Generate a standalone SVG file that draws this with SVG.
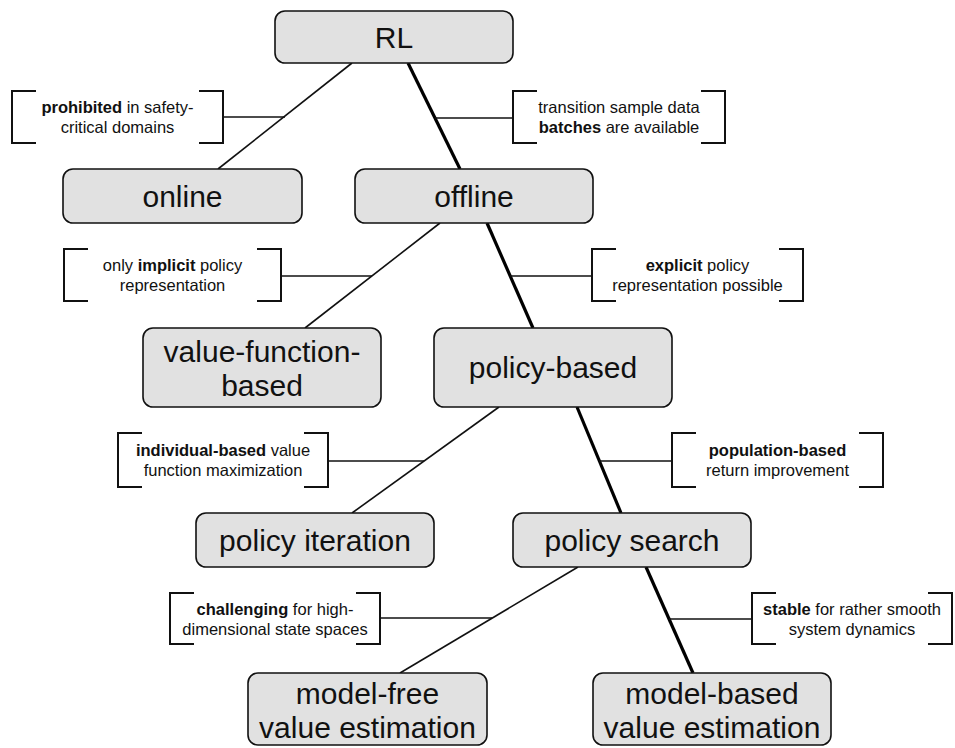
<svg xmlns="http://www.w3.org/2000/svg" width="955" height="748" viewBox="0 0 955 748">
  <style>
    .box { fill: #e1e1e1; stroke: #111; stroke-width: 1.6; }
    .lbl { font-family: "Liberation Sans", Arial, sans-serif; font-size: 30px; fill: #111; text-anchor: middle; }
    .note { font-family: "Liberation Sans", Arial, sans-serif; font-size: 16.5px; fill: #111; text-anchor: middle; }
    .b { font-weight: bold; }
    .brk { fill: none; stroke: #111; stroke-width: 2; }
    .thin { stroke: #111; stroke-width: 1.6; fill: none; }
    .thick { stroke: #000; stroke-width: 3.2; fill: none; }
  </style>

  <!-- tree edges and the ties from each note to its edge -->
  <g id="connectors">
    <line class="thin" x1="352" y1="63" x2="218" y2="169"/>
    <line class="thick" x1="408" y1="63" x2="460" y2="169"/>
    <line class="thin" x1="223" y1="117" x2="285" y2="117"/>
    <line class="thin" x1="435" y1="118" x2="513" y2="118"/>

    <line class="thin" x1="440" y1="223" x2="305" y2="328"/>
    <line class="thick" x1="487" y1="223" x2="533" y2="328"/>
    <line class="thin" x1="281" y1="276" x2="372" y2="276"/>
    <line class="thin" x1="510" y1="276" x2="592" y2="276"/>

    <line class="thin" x1="499" y1="407" x2="352" y2="513"/>
    <line class="thick" x1="577" y1="407" x2="621" y2="513"/>
    <line class="thin" x1="328" y1="461" x2="424" y2="461"/>
    <line class="thin" x1="599" y1="461" x2="672" y2="461"/>

    <line class="thin" x1="578" y1="567" x2="400" y2="673"/>
    <line class="thick" x1="646" y1="567" x2="693" y2="673"/>
    <line class="thin" x1="380" y1="618" x2="492" y2="618"/>
    <line class="thin" x1="669" y1="619" x2="752" y2="619"/>
  </g>

  <!-- notes in square brackets -->
  <g id="note-prohibited">
    <path class="brk" d="M36 91H12V143H36M199 91H223V143H199"/>
    <text class="note" x="117.5" y="113"><tspan class="b">prohibited</tspan> in safety-</text>
    <text class="note" x="117.5" y="133">critical domains</text>
  </g>
  <g id="note-batches">
    <path class="brk" d="M537 91H513V143H537M701 91H725V143H701"/>
    <text class="note" x="619" y="113">transition sample data</text>
    <text class="note" x="619" y="133"><tspan class="b">batches</tspan> are available</text>
  </g>
  <g id="note-implicit">
    <path class="brk" d="M88 249H64V301H88M257 249H281V301H257"/>
    <text class="note" x="172.5" y="271">only <tspan class="b">implicit</tspan> policy</text>
    <text class="note" x="172.5" y="291">representation</text>
  </g>
  <g id="note-explicit">
    <path class="brk" d="M616 249H592V301H616M779 249H803V301H779"/>
    <text class="note" x="697.5" y="271"><tspan class="b">explicit</tspan> policy</text>
    <text class="note" x="697.5" y="291">representation possible</text>
  </g>
  <g id="note-individual">
    <path class="brk" d="M142 433H118V487H142M304 433H328V487H304"/>
    <text class="note" x="223" y="456"><tspan class="b">individual-based</tspan> value</text>
    <text class="note" x="223" y="476">function maximization</text>
  </g>
  <g id="note-population">
    <path class="brk" d="M696 433H672V487H696M859 433H883V487H859"/>
    <text class="note" x="777.5" y="456"><tspan class="b">population-based</tspan></text>
    <text class="note" x="777.5" y="476">return improvement</text>
  </g>
  <g id="note-challenging">
    <path class="brk" d="M194 593H170V644H194M356 593H380V644H356"/>
    <text class="note" x="275" y="615"><tspan class="b">challenging</tspan> for high-</text>
    <text class="note" x="275" y="635">dimensional state spaces</text>
  </g>
  <g id="note-stable">
    <path class="brk" d="M776 593H752V644H776M928 593H952V644H928"/>
    <text class="note" x="852" y="615"><tspan class="b">stable</tspan> for rather smooth</text>
    <text class="note" x="852" y="635">system dynamics</text>
  </g>

  <!-- method boxes -->
  <g id="node-rl">
    <rect class="box" x="275" y="11" width="238" height="52" rx="10"/>
    <text class="lbl" x="394" y="48">RL</text>
  </g>
  <g id="node-online">
    <rect class="box" x="63" y="169" width="239" height="54" rx="10"/>
    <text class="lbl" x="182.5" y="207">online</text>
  </g>
  <g id="node-offline">
    <rect class="box" x="355" y="169" width="238" height="54" rx="10"/>
    <text class="lbl" x="474" y="207">offline</text>
  </g>
  <g id="node-value-function-based">
    <rect class="box" x="143" y="328" width="238" height="79" rx="10"/>
    <text class="lbl" x="262" y="362">value-function-</text>
    <text class="lbl" x="262" y="396">based</text>
  </g>
  <g id="node-policy-based">
    <rect class="box" x="434" y="328" width="238" height="79" rx="10"/>
    <text class="lbl" x="553" y="378">policy-based</text>
  </g>
  <g id="node-policy-iteration">
    <rect class="box" x="196" y="513" width="238" height="54" rx="10"/>
    <text class="lbl" x="315" y="551">policy iteration</text>
  </g>
  <g id="node-policy-search">
    <rect class="box" x="513" y="513" width="238" height="54" rx="10"/>
    <text class="lbl" x="632" y="551">policy search</text>
  </g>
  <g id="node-model-free">
    <rect class="box" x="248" y="673" width="239" height="72" rx="10"/>
    <text class="lbl" x="367.5" y="704">model-free</text>
    <text class="lbl" x="367.5" y="738">value estimation</text>
  </g>
  <g id="node-model-based">
    <rect class="box" x="593" y="673" width="238" height="72" rx="10"/>
    <text class="lbl" x="712" y="704">model-based</text>
    <text class="lbl" x="712" y="738">value estimation</text>
  </g>
</svg>
